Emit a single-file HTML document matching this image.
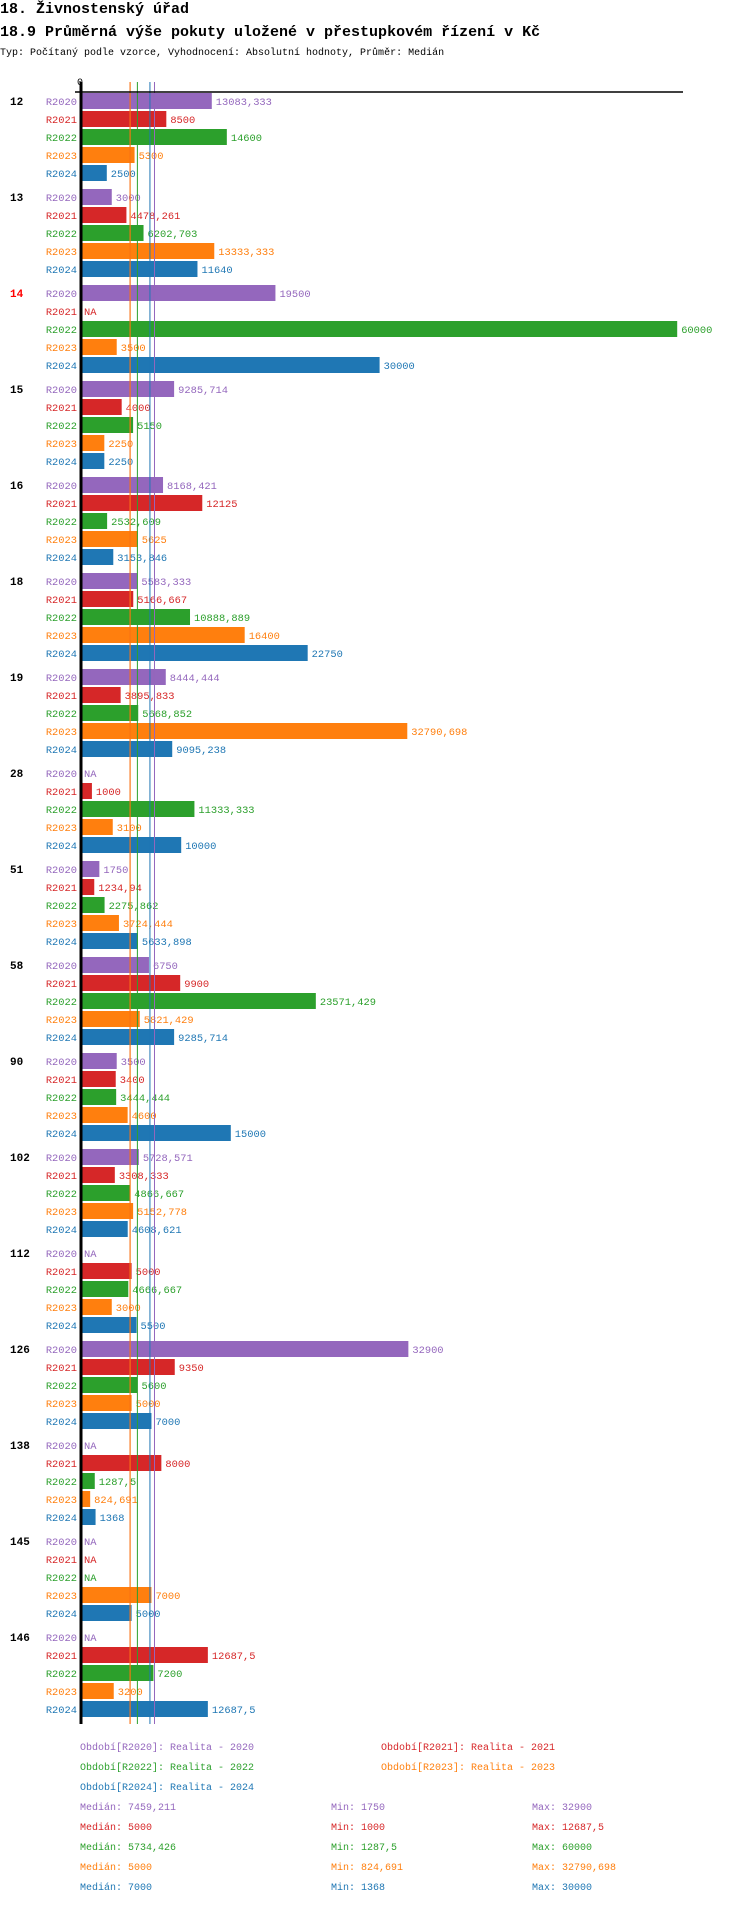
<!DOCTYPE html>
<html><head><meta charset="utf-8"><style>
body{margin:0;background:#fff;width:750px;height:1904px;overflow:hidden;font-family:"Liberation Mono",monospace}
svg text{font-family:"Liberation Mono",monospace}
</style></head><body>
<svg id="c" width="750" height="1904" xmlns="http://www.w3.org/2000/svg">
<text x="0" y="13" font-size="15" font-weight="bold">18. Živnostenský úřad</text>
<text x="0" y="36" font-size="15" font-weight="bold">18.9 Průměrná výše pokuty uložené v přestupkovém řízení v Kč</text>
<text x="0" y="55" font-size="10">Typ: Počítaný podle vzorce, Vyhodnocení: Absolutní hodnoty, Průměr: Medián</text>
<text x="77" y="85" font-size="10">0</text>
<g id="g"></g>
</svg>
<script>
const groups=["12","13","14","15","16","18","19","28","51","58","90","102","112","126","138","145","146"];
const series=["R2020","R2021","R2022","R2023","R2024"];
const colors=["#9467bd","#d62728","#2ca02c","#ff7f0e","#1f77b4"];
const v2020=[13083.333,3000,19500,9285.714,8168.421,5583.333,8444.444,null,1750,6750,3500,5728.571,null,32900,null,null,null];
const v2021=[8500,4478.261,null,4000,12125,5166.667,3895.833,1000,1234.94,9900,3400,3308.333,5000,9350,8000,null,12687.5];
const v2022=[14600,6202.703,60000,5150,2532.609,10888.889,5668.852,11333.333,2275.862,23571.429,3444.444,4866.667,4666.667,5600,1287.5,null,7200];
const v2023=[5300,13333.333,3500,2250,5625,16400,32790.698,3100,3724.444,5821.429,4600,5152.778,3000,5000,824.691,7000,3200];
const v2024=[2500,11640,30000,2250,3153.846,22750,9095.238,10000,5633.898,9285.714,15000,4608.621,5500,7000,1368,5000,12687.5];
const medians=[7459.211,5000,5734.426,5000,7000];
const mins=["1750","1000","1287,5","824,691","1368"];
const maxs=["32900","12687,5","60000","32790,698","30000"];
const medLabels=["7459,211","5000","5734,426","5000","7000"];
const vals=[v2020,v2021,v2022,v2023,v2024];
const X0=82,K=0.00992,TOP=93,GS=96,RS=18;
const x=v=>X0+v*K;
const y=(g,s)=>TOP+g*GS+s*RS;
const fmt=v=>{let s=String(Math.round(v*1000)/1000);return s.replace('.',',');};
const G=document.getElementById('g');
const NS="http://www.w3.org/2000/svg";
function mk(t,a){const e=document.createElementNS(NS,t);for(const k in a)e.setAttribute(k,a[k]);G.appendChild(e);return e;}
groups.forEach((gname,gi)=>{
  const t=mk('text',{x:10,y:y(gi,0)+12,'font-size':11,'font-weight':'bold',fill:gname==="14"?"#ff0000":"#000"});
  t.textContent=gname;
  
  
  series.forEach((s,si)=>{
    const yy=y(gi,si);
    const l=mk('text',{x:77,y:yy+12,'font-size':10.4,fill:colors[si],'text-anchor':'end'});
    l.textContent=s;
    
    
    const v=vals[si][gi];
    if(v===null){
      const n=mk('text',{x:84,y:yy+12,'font-size':10.4,fill:colors[si]});
      n.textContent="NA";
      
      
    }else{
      const r=mk('rect',{x:X0,y:yy,width:v*K,height:16,fill:colors[si]});
      
      
      const vl=mk('text',{x:x(v)+4,y:yy+12,'font-size':10.4,fill:colors[si]});
      vl.textContent=fmt(v);
      
      
    }
  });
});
medians.forEach((m,i)=>{
  const ln=mk('line',{x1:x(m)-1.5,x2:x(m)-1.5,y1:82,y2:1724,stroke:colors[i],'stroke-width':1});
  
  
});
const ax=mk('line',{x1:81,x2:81,y1:82,y2:1724,stroke:'#000','stroke-width':3});


const tx=mk('line',{x1:75,x2:683,y1:92,y2:92,stroke:'#000','stroke-width':1.5});


const legPos=[[80,1750],[381,1750],[80,1770],[381,1770],[80,1790]];
series.forEach((s,i)=>{
  const t=mk('text',{x:legPos[i][0],y:legPos[i][1],'font-size':10,fill:colors[i]});
  t.textContent="Období["+s+"]: Realita - "+s.slice(1);
  
  
  const yy=1810+i*20;
  const a=mk('text',{x:80,y:yy,'font-size':10,fill:colors[i]});a.textContent="Medián: "+medLabels[i];
  
  
  const b=mk('text',{x:331,y:yy,'font-size':10,fill:colors[i]});b.textContent="Min: "+mins[i];
  
  
  const c=mk('text',{x:532,y:yy,'font-size':10,fill:colors[i]});c.textContent="Max: "+maxs[i];
  
  
});
</script>
</body></html>
